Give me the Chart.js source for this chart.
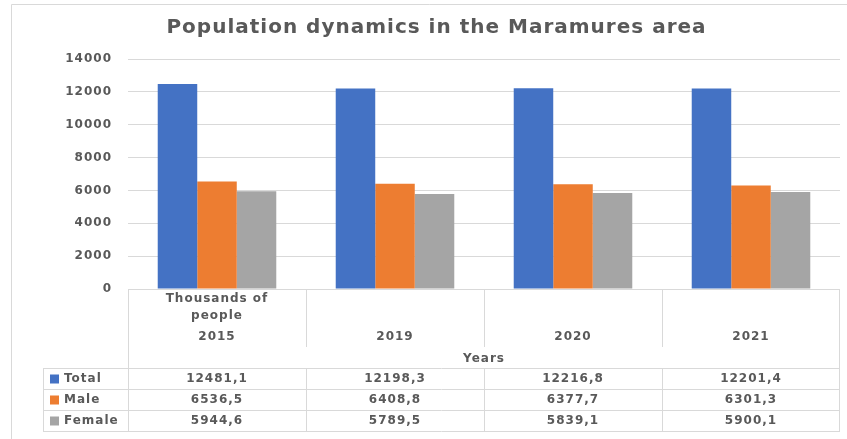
<!DOCTYPE html>
<html lang="en">
  <head>
    <meta charset="UTF-8" />
    <title>Population dynamics in the Maramures area</title>
    <script src="https://cdn.jsdelivr.net/npm/chart.js"></script>
    <style>
      html,
      body {
        margin: 0;
        padding: 0;
        background: #fff;
      }
      .chart-container {
        width: 847px;
        height: 439px;
      }
    </style>
  </head>
  <body>
    <div class="chart-container">
      <canvas id="popChart" width="847" height="439"></canvas>
    </div>

    <script>
      // data
      const years = ["2015", "2019", "2020", "2021"];
      const seriesNames = ["Total", "Male", "Female"];
      const totalValues = [12481.1, 12198.3, 12216.8, 12201.4];
      const maleValues = [6536.5, 6408.8, 6377.7, 6301.3];
      const femaleValues = [5944.6, 5789.5, 5839.1, 5900.1];
      const unitNote = ["Thousands of", "people"];
      const axisTitle = "Years";
      const yMax = 14000;
      const yStep = 2000;

      const colors = ["#4472C4", "#ED7D31", "#A5A5A5"];
      const textColor = "#595959";
      const lineColor = "#D9D9D9";
      const fontFamily = "'DejaVu Sans', sans-serif";

      const seriesValues = [totalValues, maleValues, femaleValues];

      function fmt(v) {
        return v.toFixed(1).replace(".", ",");
      }

      // draws the outer frame and the data table under the plot
      const dataTable = {
        id: "dataTable",
        beforeDraw(chart) {
          const ctx = chart.ctx;
          ctx.save();
          ctx.strokeStyle = lineColor;
          ctx.lineWidth = 1;
          ctx.beginPath();
          ctx.moveTo(11.5, chart.height);
          ctx.lineTo(11.5, 4.5);
          ctx.lineTo(chart.width, 4.5);
          ctx.stroke();
          ctx.restore();
          ctx.letterSpacing = "1px";
        },
        afterDraw(chart) {
          const { ctx, chartArea } = chart;
          const x = chart.scales.x;
          const left = chartArea.left;
          const right = chartArea.right;
          const top = chartArea.bottom;
          const colW = (right - left) / years.length;
          const headBottom = top + 79;
          const rowH = 21;
          const tableBottom = headBottom + rowH * seriesNames.length;
          const labelLeft = 43;

          ctx.save();
          ctx.strokeStyle = lineColor;
          ctx.lineWidth = 1;
          ctx.beginPath();
          // outer verticals of the header
          ctx.moveTo(Math.round(left) + 0.5, top);
          ctx.lineTo(Math.round(left) + 0.5, tableBottom);
          ctx.moveTo(Math.round(right) - 0.5, top);
          ctx.lineTo(Math.round(right) - 0.5, tableBottom);
          // inner category separators
          for (let i = 1; i < years.length; i++) {
            const xx = Math.round(left + colW * i) + 0.5;
            ctx.moveTo(xx, top);
            ctx.lineTo(xx, top + 58);
            ctx.moveTo(xx, headBottom);
            ctx.lineTo(xx, tableBottom);
          }
          // row lines
          for (let r = 0; r <= seriesNames.length; r++) {
            const yy = headBottom + rowH * r + 0.5;
            ctx.moveTo(labelLeft, yy);
            ctx.lineTo(right, yy);
          }
          ctx.moveTo(labelLeft + 0.5, headBottom);
          ctx.lineTo(labelLeft + 0.5, tableBottom);
          ctx.stroke();

          ctx.fillStyle = textColor;
          ctx.font = "bold 12px " + fontFamily;
          ctx.letterSpacing = "1px";
          ctx.textAlign = "center";
          ctx.textBaseline = "middle";

          // header: note + years
          const c0 = x.getPixelForValue(0);
          ctx.fillText(unitNote[0], c0, top + 10);
          ctx.fillText(unitNote[1], c0, top + 27);
          years.forEach((yr, i) => {
            ctx.fillText(yr, x.getPixelForValue(i), top + 48);
          });
          ctx.fillText(axisTitle, (left + right) / 2, top + 70);

          // rows
          seriesNames.forEach((name, r) => {
            const cy = headBottom + rowH * r + rowH / 2 + 0.5;
            ctx.fillStyle = colors[r];
            ctx.fillRect(50, cy - 4.5, 9, 9);
            ctx.fillStyle = textColor;
            ctx.textAlign = "left";
            ctx.fillText(name, 64, cy);
            ctx.textAlign = "center";
            seriesValues[r].forEach((v, i) => {
              ctx.fillText(fmt(v), x.getPixelForValue(i), cy);
            });
          });
          ctx.restore();
        },
      };

      const ctx = document.getElementById("popChart").getContext("2d");

      const chart = new Chart(ctx, {
        type: "bar",
        data: {
          labels: years,
          datasets: seriesNames.map((name, i) => ({
            label: name,
            data: seriesValues[i],
            backgroundColor: colors[i],
            borderWidth: 0,
            categoryPercentage: 0.666,
            barPercentage: 1,
          })),
        },
        options: {
          responsive: false,
          animation: false,
          devicePixelRatio: 1,
          layout: {
            padding: { left: 33, right: 7, top: 0, bottom: 150 },
          },
          plugins: {
            legend: { display: false },
            tooltip: { enabled: false },
            title: {
              display: true,
              text: "Population dynamics in the Maramures area",
              color: textColor,
              font: { family: fontFamily, size: 20, weight: "bold" },
              padding: { top: 16, bottom: 19 },
            },
          },
          scales: {
            x: {
              display: false,
            },
            y: {
              min: 0,
              max: yMax,
              afterFit(scale) {
                scale.width = 95;
              },
              border: { display: false },
              grid: {
                color: lineColor,
                lineWidth: 1,
                drawTicks: false,
              },
              ticks: {
                stepSize: yStep,
                padding: 16,
                color: textColor,
                font: { family: fontFamily, size: 12, weight: "bold" },
                callback: (v) => String(v),
              },
            },
          },
        },
        plugins: [dataTable],
      });
    </script>
  </body>
</html>
